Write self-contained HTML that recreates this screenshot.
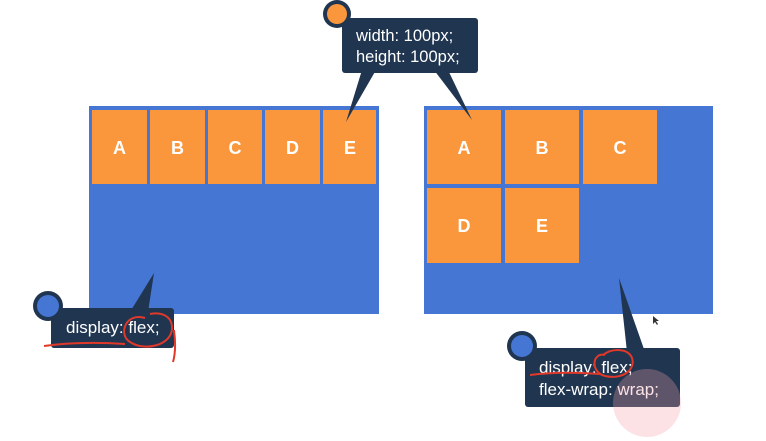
<!DOCTYPE html>
<html><head><meta charset="utf-8"><style>
html,body{margin:0;padding:0;background:#fff;}
svg{display:block;}
text{font-family:"Liberation Sans",sans-serif;}
</style></head><body>
<svg width="766" height="441" viewBox="0 0 766 441" xmlns="http://www.w3.org/2000/svg">
<rect x="0" y="0" width="766" height="441" fill="#fff"/>
<!-- left container -->
<rect x="89" y="106" width="290" height="208" fill="#4676d3"/>
<g fill="#fa963b">
<rect x="92" y="110" width="55" height="74"/>
<rect x="150" y="110" width="55" height="74"/>
<rect x="208" y="110" width="54" height="74"/>
<rect x="265" y="110" width="55" height="74"/>
<rect x="323" y="110" width="53" height="74"/>
</g>
<g fill="#fff" font-weight="bold" font-size="18" text-anchor="middle">
<text x="119.5" y="154">A</text><text x="177.5" y="154">B</text><text x="235" y="154">C</text><text x="292.5" y="154">D</text><text x="350" y="154">E</text>
</g>
<!-- right container -->
<rect x="424" y="106" width="289" height="208" fill="#4676d3"/>
<g fill="#fa963b">
<rect x="427" y="110" width="74" height="74"/>
<rect x="505" y="110" width="74" height="74"/>
<rect x="583" y="110" width="74" height="74"/>
<rect x="427" y="188" width="74" height="75"/>
<rect x="505" y="188" width="74" height="75"/>
</g>
<g fill="#fff" font-weight="bold" font-size="18" text-anchor="middle">
<text x="464" y="154">A</text><text x="542" y="154">B</text><text x="620" y="154">C</text>
<text x="464" y="232">D</text><text x="542" y="232">E</text>
</g>
<!-- top tooltip -->
<g fill="#1f3550">
<polygon points="362,70 376,70 346,122"/>
<polygon points="434,70 448,70 472,120"/>
<rect x="342" y="18" width="136" height="55" rx="3"/>
<circle cx="337" cy="14" r="14"/>
</g>
<circle cx="337" cy="14" r="10" fill="#fa963b"/>
<g fill="#fff" font-size="16.5">
<text x="356" y="41">width: 100px;</text>
<text x="356" y="62">height: 100px;</text>
</g>
<!-- left tooltip -->
<g fill="#1f3550">
<polygon points="130,312 148,312 154,273"/>
<rect x="51" y="308" width="123" height="40" rx="3"/>
<circle cx="48" cy="306" r="15"/>
</g>
<circle cx="48" cy="306" r="11" fill="#4676d3"/>
<text x="66" y="333" fill="#fff" font-size="17">display: flex;</text>
<path d="M44,346 Q80,341 125,344" stroke="#e0392a" stroke-width="2" fill="none"/>
<path d="M145,318 C125,312 118,335 130,342 C145,352 172,345 172,328 C172,315 160,312 150,314 M174,330 C176,345 175,355 173,362" stroke="#e0392a" stroke-width="2" fill="none"/>
<!-- right tooltip -->
<g fill="#1f3550">
<polygon points="627,352 645,352 619,278"/>
<rect x="525" y="348" width="155" height="59" rx="3"/>
<circle cx="522" cy="346" r="15"/>
</g>
<circle cx="522" cy="346" r="11" fill="#4676d3"/>
<g fill="#fff" font-size="17">
<text x="539" y="373">display: flex;</text>
<text x="539" y="395">flex-wrap: wrap;</text>
</g>
<path d="M530,375 Q560,371 600,374" stroke="#e0392a" stroke-width="2" fill="none"/>
<path d="M605,355 C592,352 590,372 605,376 C622,380 636,370 632,358 C628,348 612,348 603,355" stroke="#e0392a" stroke-width="2" fill="none"/>
<circle cx="647" cy="403" r="34" fill="#f4a0a8" opacity="0.3"/>
<path d="M653,316 l0,8 l2,-2 l2,3 l1,-1 l-2,-3 l3,0 z" fill="#333"/>
</svg>
</body></html>
